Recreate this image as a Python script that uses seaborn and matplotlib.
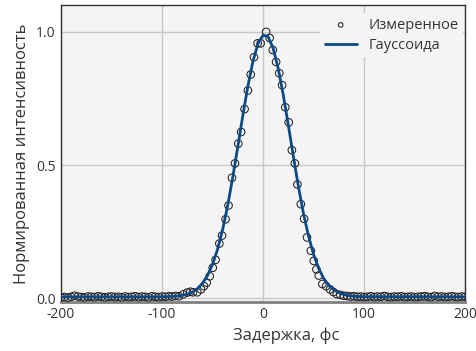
import numpy as np
import pandas as pd
import matplotlib
matplotlib.use("Agg")
import matplotlib.pyplot as plt
import seaborn as sns

# measured autocorrelation points (delay, fs / normalized intensity)
meas_x = [-200, -196.7, -193.3, -190, -186.7, -183.3, -180, -176.7, -173.3, -170,
          -166.7, -163.3, -160, -156.7, -153.3, -150, -146.7, -143.3, -140, -136.7,
          -133.3, -130, -126.7, -123.3, -120, -116.7, -113.3, -110, -106.7, -103.3,
          -100, -96.7, -93.3, -90, -86.7, -83.3, -79.2, -75, -72, -69.4, -65.2,
          -61.5, -58.5, -55.8, -52.8, -49.8, -47, -43.3, -40.6, -37.1, -34.2,
          -30.8, -27.8, -24.5, -21.7, -18.3, -15, -12.2, -9, -5.4, -2.4, 3,
          6.5, 9.6, 12.9, 16, 18.8, 22, 25.4, 28.5, 31.5, 34, 37.4, 40.6, 43.5,
          47.3, 50.2, 52.8, 55.1, 58.7, 62.4, 66.3, 69.6, 73, 76.5, 80,
          83.3, 86.7, 90, 93.3, 96.7, 100, 103.3, 106.7, 110, 113.3, 116.7, 120,
          123.3, 126.7, 130, 133.3, 136.7, 140, 143.3, 146.7, 150, 153.3, 156.7,
          160, 163.3, 166.7, 170, 173.3, 176.7, 180, 183.3, 186.7, 190, 193.3,
          196.7, 200]
meas_y = [0.003, 0.004, 0.002, 0.005, 0.009, 0.006, 0.004, 0.003, 0.006, 0.005,
          0.004, 0.007, 0.005, 0.003, 0.005, 0.006, 0.004, 0.005, 0.003, 0.006,
          0.004, 0.005, 0.007, 0.004, 0.006, 0.005, 0.003, 0.007, 0.005, 0.004,
          0.006, 0.005, 0.007, 0.006, 0.008, 0.007, 0.014, 0.021, 0.024, 0.022,
          0.022, 0.033, 0.045, 0.058, 0.082, 0.114, 0.144, 0.205, 0.235, 0.296,
          0.348, 0.452, 0.506, 0.58, 0.624, 0.71, 0.78, 0.84, 0.905, 0.957,
          0.957, 1.0, 0.977, 0.932, 0.887, 0.845, 0.80, 0.717, 0.66, 0.556,
          0.506, 0.427, 0.353, 0.298, 0.228, 0.178, 0.14, 0.108, 0.085, 0.053,
          0.045, 0.033, 0.023, 0.015, 0.012, 0.009,
          0.008, 0.006, 0.007, 0.005, 0.006, 0.004, 0.005, 0.007, 0.004, 0.006,
          0.005, 0.008, 0.005, 0.004, 0.006, 0.005, 0.007, 0.004, 0.005, 0.006,
          0.004, 0.005, 0.006, 0.007, 0.005, 0.004, 0.008, 0.005, 0.006, 0.004,
          0.005, 0.007, 0.005, 0.004, 0.006, 0.005]

# gaussian fit curve
fit_x = [-200, -100, -90, -85, -80, -75, -70, -65, -60, -55, -50, -45, -40, -35,
         -30, -25, -20, -15, -10, -5, 0, 5, 10, 15, 20, 25, 30, 35, 40, 45, 50,
         55, 60, 65, 70, 75, 80, 85, 90, 95, 100, 200]
fit_y = [0.005, 0.005, 0.0064, 0.0078, 0.0104, 0.0149, 0.0228, 0.0355, 0.0553,
         0.085, 0.127, 0.184, 0.258, 0.349, 0.454, 0.569, 0.687, 0.797, 0.890,
         0.956, 0.988, 0.982, 0.938, 0.863, 0.763, 0.650, 0.532, 0.419, 0.318,
         0.233, 0.164, 0.112, 0.074, 0.048, 0.031, 0.0198, 0.0132, 0.0094,
         0.0072, 0.0061, 0.0055, 0.005]

meas = pd.DataFrame({"x": meas_x, "y": meas_y})
fit = pd.DataFrame({"x": fit_x, "y": fit_y})

sns.set_style("whitegrid")
plt.rcParams["font.family"] = ["Open Sans", "DejaVu Sans"]

fig = plt.figure(figsize=(4.77, 3.51), dpi=100)
ax = fig.add_axes([0.128, 0.140, 0.847, 0.845])
ax.set_facecolor("#f4f4f4")

sns.scatterplot(data=meas, x="x", y="y", ax=ax, marker="o", s=30,
                facecolors="none", edgecolor="#222222", linewidth=0.75,
                label="Измеренное", zorder=3)
sns.lineplot(data=fit, x="x", y="y", ax=ax, color="#0b4a86", linewidth=2,
             label="Гауссоида", zorder=4)

ax.set_xlim(-200, 200)
ax.set_ylim(-0.014, 1.10)
ax.set_xticks([-200, -100, 0, 100, 200])
ax.set_yticks([0.0, 0.5, 1.0])
ax.set_xticklabels(["-200", "-100", "0", "100", "200"])
ax.set_yticklabels(["0.0", "0.5", "1.0"])
ax.grid(True, color="#c8c8c8", linewidth=1)
ax.tick_params(direction="in", length=5, width=1, color="#111111",
               labelsize=10, labelcolor="#333333", pad=4)

for side in ["top", "left", "right"]:
    ax.spines[side].set_color("#333333")
    ax.spines[side].set_linewidth(1)
ax.spines["bottom"].set_color("#808080")
ax.spines["bottom"].set_linewidth(2)

ax.set_xlabel("Задержка, фс", fontsize=12, color="#333333")
ax.xaxis.set_label_coords(0.558, -0.085)
ax.set_ylabel("Нормированная интенсивность", fontsize=12, color="#333333",
              labelpad=4)

leg = ax.legend(loc="upper right", bbox_to_anchor=(1.0, 0.98), fontsize=10.5,
                frameon=True, fancybox=False, borderaxespad=0.15, borderpad=0.3,
                handlelength=2.2, handletextpad=0.8, labelspacing=0.35,
                markerscale=0.6)
leg.get_frame().set_facecolor("#f4f4f4")
leg.get_frame().set_edgecolor("none")
leg.get_frame().set_alpha(1)
for t in leg.get_texts():
    t.set_color("#333333")

fig.savefig("out.png", dpi=100)
